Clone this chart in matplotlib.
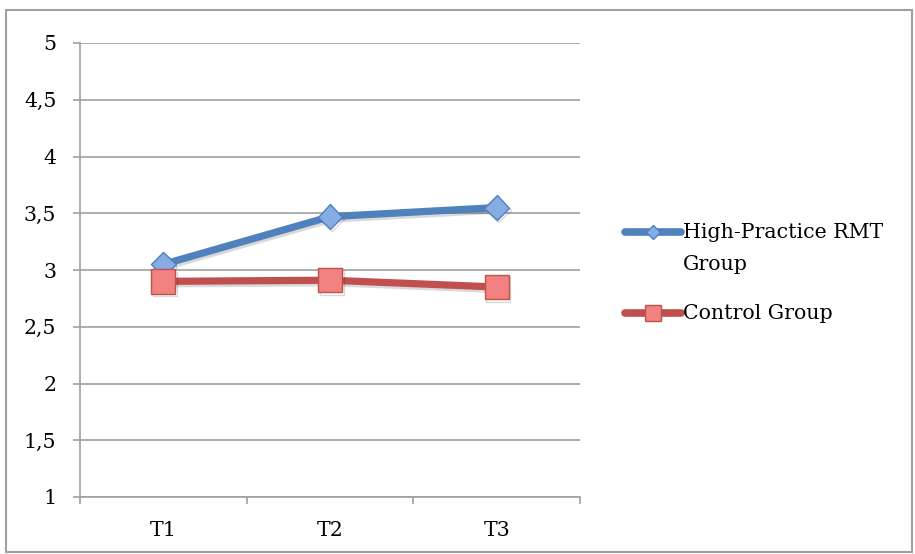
import matplotlib.pyplot as plt
from matplotlib.patches import Rectangle
from matplotlib.lines import Line2D
import matplotlib.patheffects as pe

times = ["T1", "T2", "T3"]
high_practice = [3.05, 3.47, 3.55]
control = [2.90, 2.91, 2.85]
yticks = [1, 1.5, 2, 2.5, 3, 3.5, 4, 4.5, 5]
ytick_labels = ["1", "1,5", "2", "2,5", "3", "3,5", "4", "4,5", "5"]
series_names = ["High-Practice RMT\nGroup", "Control Group"]

plt.rcParams['font.family'] = ['DejaVu Serif']
FS = 14.8

fig = plt.figure(figsize=(9.15, 5.54), dpi=100)
ax = fig.add_axes([80/915, 57/554, 500/915, 454/554])

shadow = [pe.SimpleLineShadow(offset=(1.2, -1.8), alpha=0.15), pe.Normal()]
styles = [
    dict(color='#4f81bd', marker='D', markersize=12.5, markerfacecolor='#85ace3',
         markeredgecolor='#4f81bd'),
    dict(color='#c0504d', marker='s', markersize=17.5, markerfacecolor='#f2827f',
         markeredgecolor='#c0504d'),
]
x = range(len(times))
for vals, st, z in zip([high_practice, control], styles, [3, 4]):
    ax.plot(x, vals, lw=5.2, markeredgewidth=1, solid_capstyle='round',
            zorder=z, path_effects=shadow, **st)

ax.set_xlim(-0.5, 2.5)
ax.set_ylim(1, 5)
ax.set_yticks(yticks)
ax.set_yticklabels(ytick_labels)
ax.set_xticks(list(x))
ax.set_xticklabels(times)
ax.set_xticks([-0.5, 0.5, 1.5, 2.5], minor=True)
ax.tick_params(axis='x', which='major', length=0, pad=17, labelsize=FS)
ax.tick_params(axis='x', which='minor', length=5, width=1.2, color='#a0a0a0', direction='out')
ax.tick_params(axis='y', length=5, width=1.2, color='#a0a0a0', direction='out', pad=12, labelsize=FS)

ax.grid(axis='y', color='#a0a0a0', lw=1.2)
ax.set_axisbelow(True)
for s in ['top', 'right']:
    ax.spines[s].set_visible(False)
for s in ['left', 'bottom']:
    ax.spines[s].set_color('#a0a0a0')
    ax.spines[s].set_linewidth(1.2)

# legend drawn by hand so the handle sits on the first text line
leg_y = [1 - 232/554, 1 - 313/554]
leg_ms = [7.5, 11.5]
for name, st, ly, ms in zip(series_names, styles, leg_y, leg_ms):
    st = dict(st, markersize=ms)
    fig.add_artist(Line2D([625/915, 681/915], [ly, ly], transform=fig.transFigure,
                          lw=5.5, solid_capstyle='round', markeredgewidth=1,
                          markevery=[], **st))
    fig.add_artist(Line2D([653/915], [ly], transform=fig.transFigure, lw=0,
                          markeredgewidth=1, **st))
    fig.text(683/915, ly + 9/554, name, fontsize=FS, va='top', ha='left',
             linespacing=1.85, transform=fig.transFigure)

fig.patches.append(Rectangle((6/915, 2/554), 906/915, 542/554, transform=fig.transFigure,
                             fill=False, edgecolor='#a0a0a0', lw=1.5))

fig.savefig('out.png', dpi=100)
